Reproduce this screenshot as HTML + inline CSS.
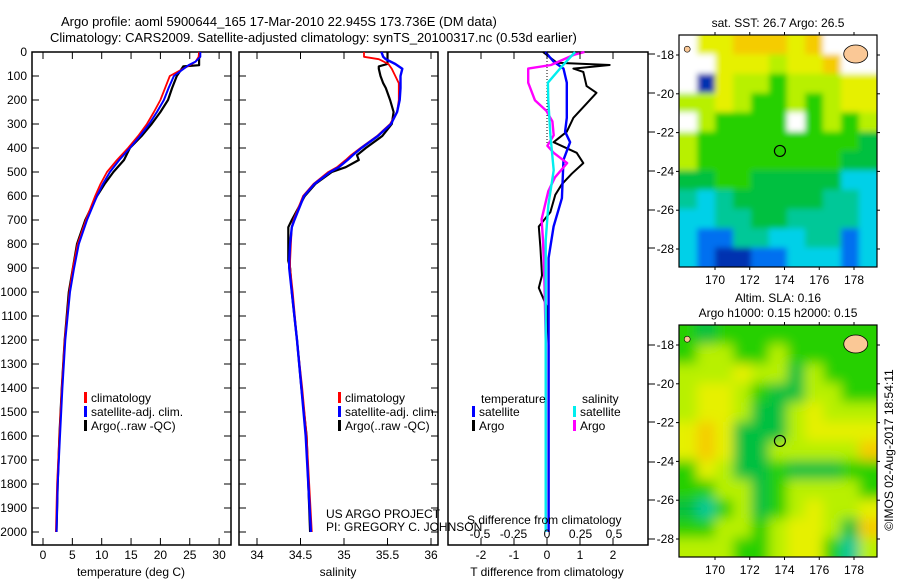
<!DOCTYPE html>
<html><head><meta charset="utf-8">
<style>
html,body{margin:0;padding:0;background:#fff;}
svg{display:block;font-family:"Liberation Sans",sans-serif;}
text{font-size:12px;fill:#000;}
</style></head>
<body>
<svg id="fig" width="900" height="580" viewBox="0 0 900 580" xmlns="http://www.w3.org/2000/svg">
<defs>
<filter id="blurS" x="-5%" y="-5%" width="110%" height="110%"><feGaussianBlur stdDeviation="3"/></filter>
<filter id="blurL" x="-5%" y="-5%" width="110%" height="110%"><feGaussianBlur stdDeviation="6"/></filter>
<clipPath id="clip4"><rect x="679" y="35" width="198" height="232"/></clipPath>
<clipPath id="clip5"><rect x="679" y="325" width="198" height="232"/></clipPath>
</defs>
<text x="61" y="26" style="font-size:13px">Argo profile: aoml 5900644_165 17-Mar-2010 22.945S 173.736E (DM data)</text>
<text x="50" y="42" style="font-size:13px">Climatology: CARS2009. Satellite-adjusted climatology: synTS_20100317.nc (0.53d earlier)</text>
<g id="g1"></g>
<g id="g2"></g>
<g id="g3"></g>
<g id="g4"></g>
<g id="g5"></g>
<text transform="translate(893,450) rotate(-90)" text-anchor="middle">©IMOS 02-Aug-2017 18:54:11</text>
</svg>
<script>
// ---------- data ----------
const depthTicks = [0,100,200,300,400,500,600,700,800,900,1000,1100,1200,1300,1400,1500,1600,1700,1800,1900,2000];
const tempTicks = [0,5,10,15,20,25,30];
const salTicks = [34,34.5,35,35.5,36];
const tdiffTicks = [-2,-1,0,1,2];
const sdiffTicks = [-0.5,-0.25,0,0.25,0.5];
const sdiffTickLabels = ['-0.5','-0.25','0','0.25','0.5'];

const tempDepths = [0,20,40,55,60,100,150,200,250,300,350,400,450,500,550,600,700,800,900,1000,1200,1400,1600,1800,2000];
const tempArgo   = [26.6,26.6,26.6,26.6,23.9,22.8,22.0,21.3,20.0,18.5,16.8,14.8,13.8,12.0,10.5,9.2,7.2,5.8,5.1,4.4,3.7,3.2,2.8,2.5,2.3];
const tempClim   = [26.6,26.5,26.0,25.0,24.6,21.6,20.8,20.0,18.9,17.7,16.2,14.5,12.6,10.9,9.8,8.9,7.3,5.9,5.1,4.5,3.7,3.2,2.8,2.4,2.2];
const tempSat    = [26.8,26.8,26.0,24.8,24.5,22.3,21.4,20.6,19.4,18.1,16.5,14.8,13.0,11.4,10.2,9.2,7.5,6.1,5.3,4.6,3.8,3.3,2.9,2.5,2.3];

const salDepths = [0,20,30,50,60,70,100,130,150,200,250,300,350,400,430,450,480,500,550,600,700,730,800,870,900,1000,1200,1400,1600,1800,2000];
const salArgo = [35.50,35.50,35.50,35.50,35.40,35.40,35.42,35.45,35.48,35.53,35.57,35.55,35.44,35.25,35.15,35.17,35.02,34.86,34.67,34.55,34.40,34.36,34.36,34.36,34.38,34.40,34.46,34.51,34.57,34.59,34.61];
const salClim = [35.23,35.23,35.40,35.51,35.53,35.55,35.59,35.63,35.63,35.63,35.61,35.53,35.38,35.19,35.08,35.02,34.92,34.82,34.65,34.53,34.42,34.40,34.39,34.38,34.38,34.41,34.46,34.52,34.57,34.60,34.63];
const salSat  = [35.43,35.45,35.48,35.59,35.63,35.67,35.65,35.65,35.65,35.64,35.61,35.54,35.39,35.20,35.10,35.04,34.94,34.84,34.66,34.54,34.43,34.40,34.38,34.37,34.37,34.40,34.46,34.51,34.56,34.59,34.62];

const tdArgoDepths = [0,45,54,69,83,142,170,215,274,332,376,420,463,507,551,595,668,727,814,931,983,1063,1224,1500,1800,2000];
const tdArgo       = [-0.12,0.3,1.9,0.8,1.1,1.2,1.5,1.2,0.8,0.6,0.2,0.9,1.1,0.75,0.45,0.25,0.1,-0.25,-0.2,-0.15,-0.25,0,0.05,0.05,0.05,0.05];
const tdSatDepths = [0,40,69,128,274,332,376,449,609,727,858,1200,1600,2000];
const tdSat       = [-0.05,0.2,0.5,0.6,0.6,0.55,0.7,0.5,0.45,0.2,0.05,0.05,0.05,0.05];
const sdArgoDepths = [0,12,54,69,128,201,245,289,347,391,420,463,522,580,697,785,931,1200,2000];
const sdArgo       = [0.28,0.2,0.03,-0.14,-0.14,-0.09,-0.005,0.04,0.05,0.003,0.05,0.15,0.06,0.01,-0.04,-0.03,-0.02,-0.01,-0.01];
const sdSatDepths = [0,54,128,201,347,493,639,785,1000,2000];
const sdSat       = [0.21,0.12,0.007,0.01,0.025,0.05,0.01,-0.01,-0.01,-0.01];

const mapLonTicks = [170,172,174,176,178];
const mapLatTicks = [-18,-20,-22,-24,-26,-28];
const sstTitle = 'sat. SST: 26.7 Argo: 26.5';
const slaTitle1 = 'Altim. SLA: 0.16';
const slaTitle2 = 'Argo h1000: 0.15 h2000: 0.15';
const floatLon = 173.736, floatLat = -22.945;
const palette = {W:'#ffffff',Y:'#e6f000',O:'#f5cc00',R:'#a80000',L:'#b8f000',G:'#28d000',D:'#00c040',T:'#00c898',C:'#00d0e8',B:'#0070f0',N:'#0030b0'};
const sstGrid = [
 'WYYOOOYOWWW',
 'WWYYYLYYOWW',
 'WNYLLGLLLYY',
 'LLYLGGLGLYY',
 'WLGGGGWGLGL',
 'LGGGGGGGGGD',
 'LGGGGGGGGDD',
 'DDGGDDDDDCC',
 'TCTDDDDDTTC',
 'CCTTDDTTTTC',
 'CBBTTCCTTBC',
 'CBNNBBCCCBC'];
const slaGrid = [
 'GDGGGGGGGGG',
 'GLLGGLGGGGG',
 'LLLYLLDLGGG',
 'LYYLGDDLLGG',
 'LYYLDDLYLLL',
 'YOYDDDLYYYY',
 'YOYDDLLLLLO',
 'GYLDDGDDDGG',
 'GGLLDGLLLLG',
 'DTGLDGLYLLY',
 'GGLLGLYYLDO',
 'LLLGGLYYGTL'];

// ---------- helpers ----------
const NS='http://www.w3.org/2000/svg';
function mk(parent,tag,attrs,txt){const e=document.createElementNS(NS,tag);for(const k in attrs)e.setAttribute(k,attrs[k]);if(txt!==undefined)e.textContent=txt;parent.appendChild(e);return e;}
const yTop=52, yBot=545;
const yD = d => yTop + d*0.24;

function frame(g,x0,x1,name){
  const r=mk(g,'rect',{x:x0,y:yTop,width:x1-x0,height:yBot-yTop,fill:'none',stroke:'#000','stroke-width':1.5});
  
  
}
function depthTicksIn(g,x0,x1){
  depthTicks.forEach(d=>{
    mk(g,'line',{x1:x0,x2:x0+7,y1:yD(d),y2:yD(d),stroke:'#000'});
    mk(g,'line',{x1:x1-7,x2:x1,y1:yD(d),y2:yD(d),stroke:'#000'});
  });
}
function xTicks(g,vals,fx,labels,ly){
  vals.forEach((v,i)=>{
    const x=fx(v);
    mk(g,'line',{x1:x,x2:x,y1:yTop,y2:yTop+7,stroke:'#000'});
    mk(g,'line',{x1:x,x2:x,y1:yBot-7,y2:yBot,stroke:'#000'});
    const t=mk(g,'text',{x:x,y:ly,'text-anchor':'middle'},labels?labels[i]:String(v));
    
    
  });
}
function line(g,vals,depths,fx,color,w,name){
  const pts=vals.map((v,i)=>fx(v).toFixed(1)+','+yD(depths[i]).toFixed(1)).join(' ');
  const p=mk(g,'polyline',{points:pts,fill:'none',stroke:color,'stroke-width':w,'stroke-linejoin':'round'});
  
  
}
function legend(g,x,y,color,label,name){
  mk(g,'rect',{x:x,y:y-10,width:3,height:11,fill:color});
  const t=mk(g,'text',{x:x+7,y:y},label);
  
  
}

// ---------- panel 1: temperature ----------
const g1=document.getElementById('g1');
const fT = v => 43 + v*5.87;
frame(g1,32,231,'temperature-plot-frame');
depthTicksIn(g1,32,231);
depthTicks.forEach(d=>{
  const t=mk(g1,'text',{x:27,y:yD(d)+4,'text-anchor':'end'},String(d));
  
  
});
xTicks(g1,tempTicks,fT,null,559);
{const t=mk(g1,'text',{x:131,y:576,'text-anchor':'middle'},'temperature (deg C)');}
line(g1,tempArgo,tempDepths,fT,'#000',2.2,'temp-argo-line');
line(g1,tempClim,tempDepths,fT,'#f00',1.8,'temp-climatology-line');
line(g1,tempSat,tempDepths,fT,'#00f',2,'temp-satellite-line');
legend(g1,84,402,'#f00','climatology','legend-climatology');
legend(g1,84,416,'#00f','satellite-adj. clim.','legend-satellite');
legend(g1,84,430,'#000','Argo(..raw -QC)','legend-argo');

// ---------- panel 2: salinity ----------
const g2=document.getElementById('g2');
const fS = v => 257 + (v-34)*87;
frame(g2,239,438,'salinity-plot-frame');
depthTicksIn(g2,239,438);
xTicks(g2,salTicks,fS,null,559);
{const t=mk(g2,'text',{x:338,y:576,'text-anchor':'middle'},'salinity');}
line(g2,salArgo,salDepths,fS,'#000',2.2,'sal-argo-line');
line(g2,salClim,salDepths,fS,'#f00',1.8,'sal-climatology-line');
line(g2,salSat,salDepths,fS,'#00f',2.4,'sal-satellite-line');
legend(g2,338,402,'#f00','climatology','legend-climatology');
legend(g2,338,416,'#00f','satellite-adj. clim.','legend-satellite');
legend(g2,338,430,'#000','Argo(..raw -QC)','legend-argo');
{const t=mk(g2,'text',{x:326,y:518},'US ARGO PROJECT');}
{const t=mk(g2,'text',{x:326,y:531},'PI: GREGORY C. JOHNSON');}

// ---------- panel 3: differences ----------
const g3=document.getElementById('g3');
const fTd = v => 547 + v*33;
const fSd = v => 547 + v*134;
frame(g3,448,648,'difference-plot-frame');
[54,93,132,171,210,248,345,384,422,462,500,539].forEach(y=>{mk(g3,'line',{x1:648,x2:655,y1:y,y2:y,stroke:'#000'});});
mk(g3,'line',{x1:547,x2:547,y1:yTop,y2:yD(400),stroke:'#000','stroke-dasharray':'1,2'});
line(g3,tdArgo,tdArgoDepths,fTd,'#000',2,'tdiff-argo-line');
line(g3,tdSat,tdSatDepths,fTd,'#00f',2.4,'tdiff-satellite-line');
line(g3,sdArgo,sdArgoDepths,fSd,'#f0f',2.4,'sdiff-argo-line');
line(g3,sdSat,sdSatDepths,fSd,'#0ee',2.4,'sdiff-satellite-line');
{const t=mk(g3,'text',{x:481,y:403},'temperature');}
{const t=mk(g3,'text',{x:582,y:403},'salinity');}
legend(g3,472,416,'#00f','satellite','legend-t-satellite');
legend(g3,472,430,'#000','Argo','legend-t-argo');
legend(g3,573,416,'#0ee','satellite','legend-s-satellite');
legend(g3,573,430,'#f0f','Argo','legend-s-argo');
{const t=mk(g3,'text',{x:467,y:524},'S difference from climatology');}
sdiffTicks.forEach((v,i)=>{const t=mk(g3,'text',{x:fSd(v),y:538,'text-anchor':'middle'},sdiffTickLabels[i]);});
xTicks(g3,tdiffTicks,fTd,null,559);
{const t=mk(g3,'text',{x:547,y:576,'text-anchor':'middle'},'T difference from climatology');}

// ---------- maps ----------
function drawMap(g,top,grid,titles,name,filt,clip){
  const x0=679,x1=877,h=232;
  const fx = lon => 715 + (lon-170)*17.375;
  const fy = lat => top + 20 + (-18-lat)*19.4;
  const cw=(x1-x0)/grid[0].length, ch=h/grid.length;
  const outer=mk(g,'g',{'clip-path':'url(#'+clip+')'});
  const cells=mk(outer,'g',{filter:'url(#'+filt+')'});
  grid.forEach((row,r)=>{[...row].forEach((c,k)=>{
    const cell=mk(cells,'rect',{x:(x0+k*cw-(k===0?12:0)).toFixed(2),y:(top+r*ch-(r===0?12:0)).toFixed(2),width:(cw+0.6+(k===0?12:0)+(k===row.length-1?12:0)).toFixed(2),height:(ch+0.6+(r===0?12:0)+(r===grid.length-1?12:0)).toFixed(2),fill:palette[c]});
    
    
  });});
  const land=mk(g,'ellipse',{cx:fx(178.1),cy:fy(-17.95),rx:12,ry:9,fill:'#fac896',stroke:'#000','stroke-width':0.8});
  
  
  mk(g,'ellipse',{cx:fx(168.4),cy:fy(-17.7),rx:3,ry:3,fill:'#fac896',stroke:'#000','stroke-width':0.6});
  const mark=mk(g,'circle',{cx:fx(floatLon),cy:fy(floatLat),r:5.5,fill:'none',stroke:'#000','stroke-width':1.2});
  
  
  const fr=mk(g,'rect',{x:x0,y:top,width:x1-x0,height:h,fill:'none',stroke:'#000','stroke-width':1.2});
  
  
  mapLonTicks.forEach(l=>{
    mk(g,'line',{x1:fx(l),x2:fx(l),y1:top-3,y2:top,stroke:'#000'});
    mk(g,'line',{x1:fx(l),x2:fx(l),y1:top+h,y2:top+h+3,stroke:'#000'});
    const t=mk(g,'text',{x:fx(l),y:top+h+17,'text-anchor':'middle'},String(l));
    
    
  });
  mapLatTicks.forEach(l=>{
    mk(g,'line',{x1:x0-3,x2:x0,y1:fy(l),y2:fy(l),stroke:'#000'});
    mk(g,'line',{x1:x1,x2:x1+3,y1:fy(l),y2:fy(l),stroke:'#000'});
    const t=mk(g,'text',{x:x0-5,y:fy(l)+4,'text-anchor':'end'},String(l));
    
    
  });
  titles.forEach((s,i)=>{
    const t=mk(g,'text',{x:778,y:top-8-(titles.length-1-i)*15,'text-anchor':'middle'},s);
    
    
  });
}
drawMap(document.getElementById('g4'),35,sstGrid,[sstTitle],'sst-map','blurS','clip4');
drawMap(document.getElementById('g5'),325,slaGrid,[slaTitle1,slaTitle2],'sla-map','blurL','clip5');
</script>
</body></html>
